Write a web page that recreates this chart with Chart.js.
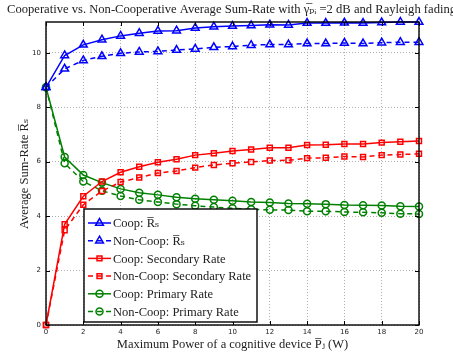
<!DOCTYPE html>
<html>
<head>
<meta charset="utf-8">
<script src="https://cdn.jsdelivr.net/npm/chart.js@4/dist/chart.umd.min.js"></script>
<style>
html, body { margin: 0; padding: 0; background: #fff; }
canvas { display: block; }
</style>
</head>
<body>
<canvas id="chart" width="453" height="354"></canvas>
<script>
// maximum power of a cognitive device (W)
const powers = [0,1,2,3,4,5,6,7,8,9,10,11,12,13,14,15,16,17,18,19,20];

const coopSum = [8.73,9.90,10.29,10.48,10.62,10.72,10.80,10.81,10.91,10.96,10.98,11.00,11.03,11.02,11.09,11.09,11.10,11.09,11.11,11.13,11.13];
const nonCoopSum = [8.73,9.41,9.72,9.87,9.98,10.03,10.05,10.10,10.14,10.20,10.23,10.28,10.30,10.30,10.34,10.34,10.36,10.34,10.37,10.39,10.39];
const coopSecondary = [0,3.70,4.73,5.27,5.61,5.81,5.98,6.09,6.24,6.31,6.39,6.45,6.51,6.51,6.61,6.62,6.65,6.65,6.70,6.73,6.76];
const nonCoopSecondary = [0,3.48,4.42,4.92,5.25,5.42,5.58,5.66,5.78,5.88,5.94,5.99,6.04,6.05,6.13,6.14,6.19,6.17,6.24,6.26,6.29];
const coopPrimary = [8.73,6.17,5.51,5.23,5.00,4.86,4.78,4.69,4.64,4.60,4.56,4.52,4.50,4.46,4.45,4.44,4.41,4.40,4.39,4.36,4.35];
const nonCoopPrimary = [8.73,5.94,5.27,4.93,4.74,4.60,4.52,4.44,4.38,4.33,4.29,4.25,4.23,4.22,4.18,4.18,4.15,4.14,4.12,4.09,4.08];

const xTicks = [0,2,4,6,8,10,12,14,16,18,20];
const yTicks = [0,2,4,6,8,10];
const yMax = 11.13;

const labels = ['Coop: R\u0305\u209B', 'Non-Coop: R\u0305\u209B', 'Coop: Secondary Rate',
    'Non-Coop: Secondary Rate', 'Coop: Primary Rate', 'Non-Coop: Primary Rate'];

const titleText = 'Cooperative vs. Non-Cooperative Average Sum-Rate with \u03B3\u0305\u209A\u1D62 =2 dB and Rayleigh fading';
const xTitle = 'Maximum Power of a cognitive device P\u0305\u2C7C (W)';
const yTitle = 'Average Sum-Rate R\u0305\u209B';

const serif = '"Liberation Serif", "DejaVu Serif", serif';

function series(label, values, color, style, dashed, radius) {
    return {
        label: label,
        data: powers.map((p, i) => ({ x: p, y: values[i] })),
        borderColor: color,
        backgroundColor: 'rgba(0,0,0,0)',
        borderWidth: 1.5,
        borderDash: dashed ? [5, 4] : [],
        pointStyle: style,
        pointRadius: radius,
        pointBorderWidth: 1.5,
        pointBorderColor: color,
        pointBackgroundColor: 'rgba(0,0,0,0)',
        tension: 0,
        clip: false
    };
}

const framePlugin = {
    id: 'frame',
    afterDraw(chart) {
        const ctx = chart.ctx;
        const a = chart.chartArea;
        const xs = chart.scales.x, ys = chart.scales.y;
        ctx.save();
        ctx.strokeStyle = '#000';
        ctx.lineWidth = 1;
        // inward tick marks
        ctx.beginPath();
        xTicks.forEach(v => {
            const px = Math.round(xs.getPixelForValue(v)) + 0.5;
            ctx.moveTo(px, a.bottom); ctx.lineTo(px, a.bottom - 4);
            ctx.moveTo(px, a.top); ctx.lineTo(px, a.top + 4);
        });
        yTicks.forEach(v => {
            const py = Math.round(ys.getPixelForValue(v)) + 0.5;
            ctx.moveTo(a.left, py); ctx.lineTo(a.left + 4, py);
            ctx.moveTo(a.right, py); ctx.lineTo(a.right - 4, py);
        });
        ctx.stroke();
        ctx.lineWidth = 1.4;
        ctx.strokeRect(a.left, a.top, a.right - a.left, a.bottom - a.top);

        // title and axis titles
        ctx.fillStyle = '#222';
        ctx.font = '12.6px ' + serif;
        ctx.textBaseline = 'middle';
        ctx.textAlign = 'left';
        ctx.fillText(titleText, 7, 10);
        ctx.font = '12.5px ' + serif;
        ctx.textAlign = 'center';
        ctx.fillText(xTitle, (a.left + a.right) / 2, 345);
        ctx.translate(25, 174);
        ctx.rotate(-Math.PI / 2);
        ctx.fillText(yTitle, 0, 0);
        ctx.restore();

        // legend box
        ctx.save();
        const lx = 84, ly = 209, lw = 173, lh = 113;
        ctx.fillStyle = '#fff';
        ctx.fillRect(lx, ly, lw, lh);
        ctx.strokeStyle = '#000';
        ctx.lineWidth = 1.4;
        ctx.strokeRect(lx, ly, lw, lh);
        chart.data.datasets.forEach((ds, i) => {
            const y = ly + 14 + i * 17.7;
            ctx.strokeStyle = ds.borderColor;
            ctx.lineWidth = ds.borderWidth;
            ctx.setLineDash(ds.borderDash);
            ctx.beginPath();
            ctx.moveTo(lx + 4, y);
            ctx.lineTo(lx + 27, y);
            ctx.stroke();
            ctx.setLineDash([]);
            ctx.fillStyle = 'rgba(0,0,0,0)';
            Chart.helpers.drawPoint(ctx, {
                pointStyle: ds.pointStyle, radius: ds.pointRadius,
                rotation: 0, borderWidth: ds.pointBorderWidth
            }, lx + 15.5, y);
            ctx.fillStyle = '#222';
            ctx.font = '12.5px ' + serif;
            ctx.textAlign = 'left';
            ctx.textBaseline = 'middle';
            ctx.fillText(ds.label, lx + 29, y + 1);
        });
        ctx.restore();
    }
};

const tickFont = { family: '"DejaVu Sans", sans-serif', size: 7 };

new Chart(document.getElementById('chart'), {
    type: 'line',
    data: {
        datasets: [
            series(labels[0], coopSum, '#0000ff', 'triangle', false, 4.5),
            series(labels[1], nonCoopSum, '#0000ff', 'triangle', true, 4.5),
            series(labels[2], coopSecondary, '#ff0000', 'rect', false, 3.5),
            series(labels[3], nonCoopSecondary, '#ff0000', 'rect', true, 3.5),
            series(labels[4], coopPrimary, '#008000', 'circle', false, 3.5),
            series(labels[5], nonCoopPrimary, '#008000', 'circle', true, 3.5)
        ]
    },
    options: {
        responsive: false,
        animation: false,
        layout: { padding: { left: 0, top: 22, right: 34, bottom: 0 } },
        plugins: { legend: { display: false }, tooltip: { enabled: false } },
        scales: {
            x: {
                type: 'linear', min: 0, max: 20,
                afterFit(scale) { scale.height = 29; },
                afterBuildTicks(scale) { scale.ticks = xTicks.map(v => ({ value: v })); },
                ticks: { font: tickFont, color: '#222', padding: 3, maxRotation: 0 },
                grid: { color: '#999', drawTicks: false, lineWidth: 0.8 },
                border: { display: false, dash: [1, 2] }
            },
            y: {
                type: 'linear', min: 0, max: yMax,
                afterFit(scale) { scale.width = 46; },
                afterBuildTicks(scale) { scale.ticks = yTicks.map(v => ({ value: v })); },
                ticks: { font: tickFont, color: '#222', padding: 5 },
                grid: { color: '#999', drawTicks: false, lineWidth: 0.8 },
                border: { display: false, dash: [1, 2] }
            }
        }
    },
    plugins: [framePlugin]
});
</script>
</body>
</html>
